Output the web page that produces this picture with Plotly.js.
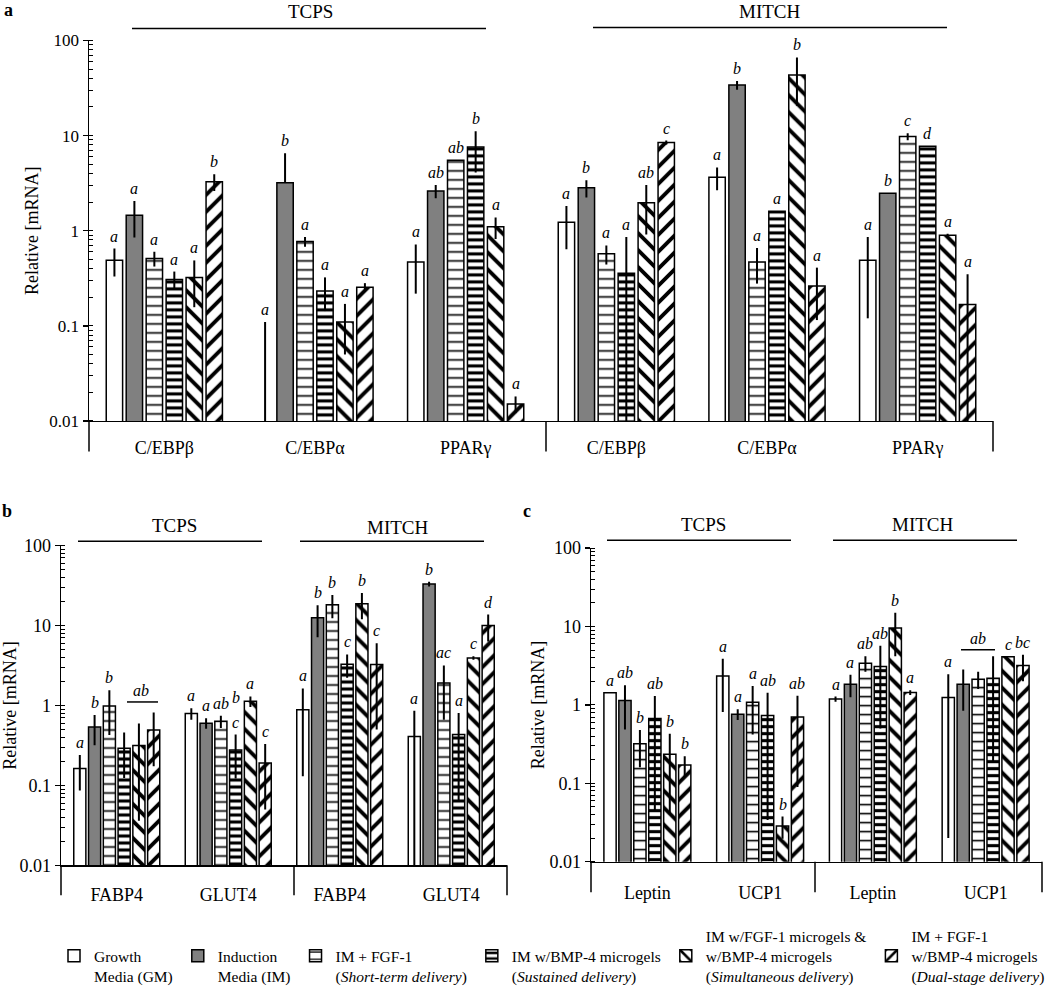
<!DOCTYPE html>
<html>
<head>
<meta charset="utf-8">
<script src="https://cdn.plot.ly/plotly-3.0.1.min.js"></script>
<style>html,body{margin:0;padding:0;background:#fff;}#chart{width:1050px;height:993px;}</style>
</head>
<body>
<div id="chart"></div>
<script>
// ---------- DATA ----------
const seriesNames = [
  '<br>Growth<br>Media (GM)',
  '<br>Induction<br>Media (IM)',
  '<br>IM + FGF-1<br>(<i>Short-term delivery</i>)',
  '<br>IM w/BMP-4 microgels<br>(<i>Sustained delivery</i>)',
  'IM w/FGF-1 microgels &amp;<br>w/BMP-4 microgels<br>(<i>Simultaneous delivery</i>)',
  'IM + FGF-1<br>w/BMP-4 microgels<br>(<i>Dual-stage delivery</i>)'
];

// Panel a: C/EBPβ, C/EBPα, PPARγ on TCPS then MITCH
const catsA = ['C/EBPβ','C/EBPα','PPARγ','C/EBPβ','C/EBPα','PPARγ'];
const aGM    = [0.49, 0.004, 0.468, 1.23, 3.64, 0.49];
const aIM    = [1.45, 3.2, 2.61, 2.82, 33.9, 2.48];
const aFGF   = [0.51, 0.77, 5.5, 0.571, 0.468, 9.75];
const aBMP   = [0.307, 0.233, 7.6, 0.357, 1.60, 7.74];
const aSim   = [0.322, 0.110, 1.10, 1.97, 43.4, 0.898];
const aDual  = [3.26, 0.254, 0.0151, 8.45, 0.262, 0.168];
const aGMe   = [0.16, 0.106, 0.25, 0.59, 0.98, 0.37];
const aIMe   = [0.6, 3.3, 0.42, 0.58, 3.6, 0];
const aFGFe  = [0.09, 0.09, 0, 0.13, 0.19, 0.85];
const aBMPe  = [0.065, 0.09, 3.5, 0.5, 0, 0];
const aSime  = [0.165, 0.06, 0.28, 1.06, 22.8, 0.03];
const aDuale = [0.65, 0.027, 0.003, 0.4, 0.147, 0.18];
const aGMm   = [0.16, 0.004, 0.25, 0.59, 0.98, 0.37];
const aIMm   = [0.6, 0, 0.42, 0.58, 3.6, 0];
const aFGFm  = [0.09, 0.09, 0, 0.13, 0.19, 0.85];
const aBMPm  = [0.065, 0.09, 3.5, 0.5, 0, 0];
const aSimm  = [0.165, 0.06, 0.28, 1.06, 22.8, 0.03];
const aDualm = [0.65, 0.027, 0.003, 0.4, 0.147, 0.18];
const aGMl   = ['a','a','a','a','a','a'];
const aIMl   = ['a','b','ab','b','b','b'];
const aFGFl  = ['a','a','ab','a','a','c'];
const aBMPl  = ['a','a','b','a','a','d'];
const aSiml  = ['a','a','a','ab','b','a'];
const aDuall = ['b','a','a','c','a','a'];

// Panel b: FABP4, GLUT4 on TCPS then MITCH
const catsB = ['FABP4','GLUT4','FABP4','GLUT4'];
const bGM    = [0.163, 0.79, 0.88, 0.409];
const bIM    = [0.538, 0.60, 12.5, 33.0];
const bFGF   = [0.986, 0.632, 18.2, 1.91];
const bBMP   = [0.291, 0.277, 3.28, 0.433];
const bSim   = [0.316, 1.125, 18.7, 3.93];
const bDual  = [0.494, 0.19, 3.25, 10.0];
const bGMe   = [0.077, 0.13, 0.75, 0.45];
const bIMe   = [0.22, 0.09, 5.4, 2.3];
const bFGFe  = [0.56, 0.11, 5.9, 1.25];
const bBMPe  = [0.167, 0.155, 1.06, 0.37];
const bSime  = [0.28, 0.17, 6.7, 0.2];
const bDuale = [0.32, 0.14, 2.75, 3.7];
const bGMl   = ['a','a','a','a'];
const bIMl   = ['b','a','b','b'];
const bFGFl  = ['b','ab','b','ac'];
const bBMPl  = ['','c','c','a'];
const bSiml  = ['','a','b','c'];
const bDuall = ['','c','c','d'];

// Panel c: Leptin, UCP1 on TCPS then MITCH
const catsC = ['Leptin','UCP1','Leptin','UCP1'];
const cGM    = [1.43, 2.34, 1.19, 1.24];
const cIM    = [1.135, 0.763, 1.84, 1.84];
const cFGF   = [0.32, 1.08, 3.41, 2.12];
const cBMP   = [0.673, 0.734, 3.1, 2.19];
const cSim   = [0.235, 0.0286, 9.58, 4.13];
const cDual  = [0.171, 0.70, 1.44, 3.18];
const cGMe   = [0, 1.53, 0.09, 1.22];
const cIMe   = [0.65, 0.12, 0.59, 1.0];
const cFGFe  = [0.16, 0.66, 0.77, 0.52];
const cBMPe  = [0.63, 0.70, 2.6, 2.0];
const cSime  = [0.195, 0.009, 5.4, 0];
const cDuale = [0.05, 0.61, 0.1, 1.17];
const cGMl   = ['a','a','a','a'];
const cIMl   = ['ab','a','a',''];
const cFGFl  = ['b','a','ab',''];
const cBMPl  = ['ab','ab','ab',''];
const cSiml  = ['b','b','b','c'];
const cDuall = ['b','ab','a','bc'];

const yTickVals = [0.01, 0.1, 1, 10, 100];
const yTickText = ['0.01', '0.1', '1', '10', '100'];

// ---------- STYLE ----------
const FONT = 'Liberation Serif, Times New Roman, serif';
const W = 1050, H = 993;
const BARGAP = 0.205, GROUPGAP = 0.18;
const styles = [
  {color:'#ffffff'},
  {color:'#808080'},
  {color:'#ffffff', pattern:{shape:'-', fgcolor:'#000', bgcolor:'#fff', size:9, solidity:0.18, fillmode:'replace'}},
  {color:'#ffffff', pattern:{shape:'-', fgcolor:'#000', bgcolor:'#fff', size:7, solidity:0.45, fillmode:'replace'}},
  {color:'#ffffff', pattern:{shape:'\\', fgcolor:'#000', bgcolor:'#fff', size:12, solidity:0.32, fillmode:'replace'}},
  {color:'#ffffff', pattern:{shape:'/', fgcolor:'#000', bgcolor:'#fff', size:12, solidity:0.32, fillmode:'replace'}}
];

const panels = [
  {xa:'x',  ya:'y',  cats:catsA,
   vals:[aGM,aIM,aFGF,aBMP,aSim,aDual],
   errs:[aGMe,aIMe,aFGFe,aBMPe,aSime,aDuale],
   errm:[aGMm,aIMm,aFGFm,aBMPm,aSimm,aDualm],
   lets:[aGMl,aIMl,aFGFl,aBMPl,aSiml,aDuall], legend:true},
  {xa:'x2', ya:'y2', cats:catsB,
   vals:[bGM,bIM,bFGF,bBMP,bSim,bDual],
   errs:[bGMe,bIMe,bFGFe,bBMPe,bSime,bDuale],
   errm:[bGMe,bIMe,bFGFe,bBMPe,bSime,bDuale],
   lets:[bGMl,bIMl,bFGFl,bBMPl,bSiml,bDuall], legend:false},
  {xa:'x3', ya:'y3', cats:catsC,
   vals:[cGM,cIM,cFGF,cBMP,cSim,cDual],
   errs:[cGMe,cIMe,cFGFe,cBMPe,cSime,cDuale],
   errm:[cGMe,cIMe,cFGFe,cBMPe,cSime,cDuale],
   lets:[cGMl,cIMl,cFGFl,cBMPl,cSiml,cDuall], legend:false}
];

const traces = [];
const annotations = [];
const slot = (1 - BARGAP) / 6;
function off(s){ return (s - 2.5) * slot; }

panels.forEach(p => {
  const idx = p.cats.map((c, i) => i);
  p.vals.forEach((v, s) => {
    traces.push({
      type:'bar', x:idx, y:v, xaxis:p.xa, yaxis:p.ya,
      name:seriesNames[s], legendgroup:'s'+s, showlegend:p.legend,
      marker:Object.assign({line:{color:'#000', width:1.5}}, styles[s]),
      error_y:{type:'data', array:p.errs[s], arrayminus:p.errm[s], symmetric:false,
               color:'#000', thickness:2, width:0},
      hoverinfo:'y+name'
    });
    v.forEach((val, i) => {
      const t = p.lets[s][i];
      if (!t) return;
      annotations.push({
        xref:p.xa, yref:p.ya, x:i + off(s), y:Math.log10(val + p.errs[s][i]),
        text:'<i>' + t + '</i>', showarrow:false, yanchor:'bottom', yshift:2,
        font:{family:FONT, size:16, color:'#000'}
      });
    });
  });
});

// px helpers
function px(x){ return x / W; }
function py(y){ return 1 - y / H; }

// extra group letters
annotations.push({xref:'x2', yref:'paper', x:off(4) + 0.02, y:py(711), text:'<i>ab</i>', showarrow:false, yanchor:'bottom', font:{family:FONT, size:16}});
annotations.push({xref:'x2', yref:'paper', x:1 + off(3), y:py(718), text:'<i>b</i>', showarrow:false, yanchor:'bottom', font:{family:FONT, size:16}});
annotations.push({xref:'x3', yref:'paper', x:3 + off(2), y:py(658), text:'<i>ab</i>', showarrow:false, yanchor:'bottom', font:{family:FONT, size:16}});

// group headers
const hdr = [
  ['TCPS', 310, 12], ['MITCH', 770, 12],
  ['TCPS', 174, 533], ['MITCH', 398, 535],
  ['TCPS', 703, 532], ['MITCH', 923, 532]
];
hdr.forEach(h => annotations.push({xref:'paper', yref:'paper', x:px(h[1]), y:py(h[2]), text:h[0], showarrow:false,
  xanchor:'center', yanchor:'middle', font:{family:FONT, size:19, color:'#000'}}));

// panel letters
[['a', 8, 10], ['b', 7, 518], ['c', 527, 518]].forEach(l => annotations.push({xref:'paper', yref:'paper',
  x:px(l[1]), y:py(l[2]), text:'<b>' + l[0] + '</b>', showarrow:false, xanchor:'center', yanchor:'middle',
  font:{family:FONT, size:18, color:'#000'}}));

const shapes = [];
function hline(x0, x1, y){ shapes.push({type:'line', xref:'paper', yref:'paper', x0:px(x0), x1:px(x1), y0:py(y), y1:py(y), line:{color:'#000', width:1.5}}); }
function vline(x, y0, y1){ shapes.push({type:'line', xref:'paper', yref:'paper', x0:px(x), x1:px(x), y0:py(y0), y1:py(y1), line:{color:'#000', width:1.5}}); }
hline(132, 486, 29); hline(593, 947, 28);
hline(78, 262, 549); hline(300, 484, 549);
hline(607, 791, 548); hline(833, 1017, 548);
vline(89, 427, 458); vline(546, 427, 458); vline(993, 427, 458);
vline(61, 877.7, 908); vline(294, 877.7, 908); vline(507, 877.7, 908);
vline(591, 874, 905); vline(815, 874, 905); vline(1042, 874, 905);
// group lines for shared letters
hline(127, 158, 712);
hline(961, 995, 659);

function xax(cats, dom, anchor, standoff){
  return {domain:dom, anchor:anchor, range:[-0.5, cats.length - 0.5], tickmode:'array',
    tickvals:cats.map((c,i)=>i), ticktext:cats, ticks:'', showline:true, linecolor:'#000', linewidth:1.5,
    showgrid:false, zeroline:false, fixedrange:true, ticklabelstandoff:standoff,
    tickfont:{family:FONT, size:18, color:'#000'}};
}
function yax(dom, anchor, fs, standoff){
  return {domain:dom, anchor:anchor, type:'log', range:[-2, 2], tickmode:'array', tickvals:yTickVals, ticktext:yTickText,
    ticks:'outside', ticklen:5, tickwidth:1.5, tickcolor:'#000', showline:true, linecolor:'#000', linewidth:1.5,
    showgrid:false, zeroline:false, fixedrange:true,
    minor:{ticks:'inside', ticklen:4, tickwidth:1, tickcolor:'#000', dtick:'D1', showgrid:false},
    tickfont:{family:FONT, size:fs, color:'#000'},
    title:{text:'Relative [mRNA]', font:{family:FONT, size:18, color:'#000'}, standoff:standoff}};
}

const layout = {
  width:W, height:H, margin:{l:0, r:0, t:0, b:0}, paper_bgcolor:'#fff', plot_bgcolor:'rgba(0,0,0,0)',
  barmode:'group', bargap:BARGAP, bargroupgap:GROUPGAP,
  font:{family:FONT, color:'#000'},
  xaxis: xax(catsA, [px(89), px(993)], 'y', 10),
  yaxis: yax([py(427), py(41)], 'x', 17, 6),
  xaxis2: xax(catsB, [px(61), px(507)], 'y2', 13),
  yaxis2: yax([py(877.7), py(553.3)], 'x2', 18, 0),
  xaxis3: xax(catsC, [px(591), px(1042)], 'y3', 14),
  yaxis3: yax([py(874), py(556)], 'x3', 18, 0),
  showlegend:true,
  legend:{orientation:'h', x:px(62), xanchor:'left', y:py(970), yanchor:'middle',
    font:{family:FONT, size:15.5, color:'#000'}, traceorder:'normal', itemwidth:30, bgcolor:'rgba(0,0,0,0)'},
  annotations:annotations, shapes:shapes
};

Plotly.newPlot('chart', traces, layout, {displayModeBar:false, staticPlot:true});
</script>
</body>
</html>
